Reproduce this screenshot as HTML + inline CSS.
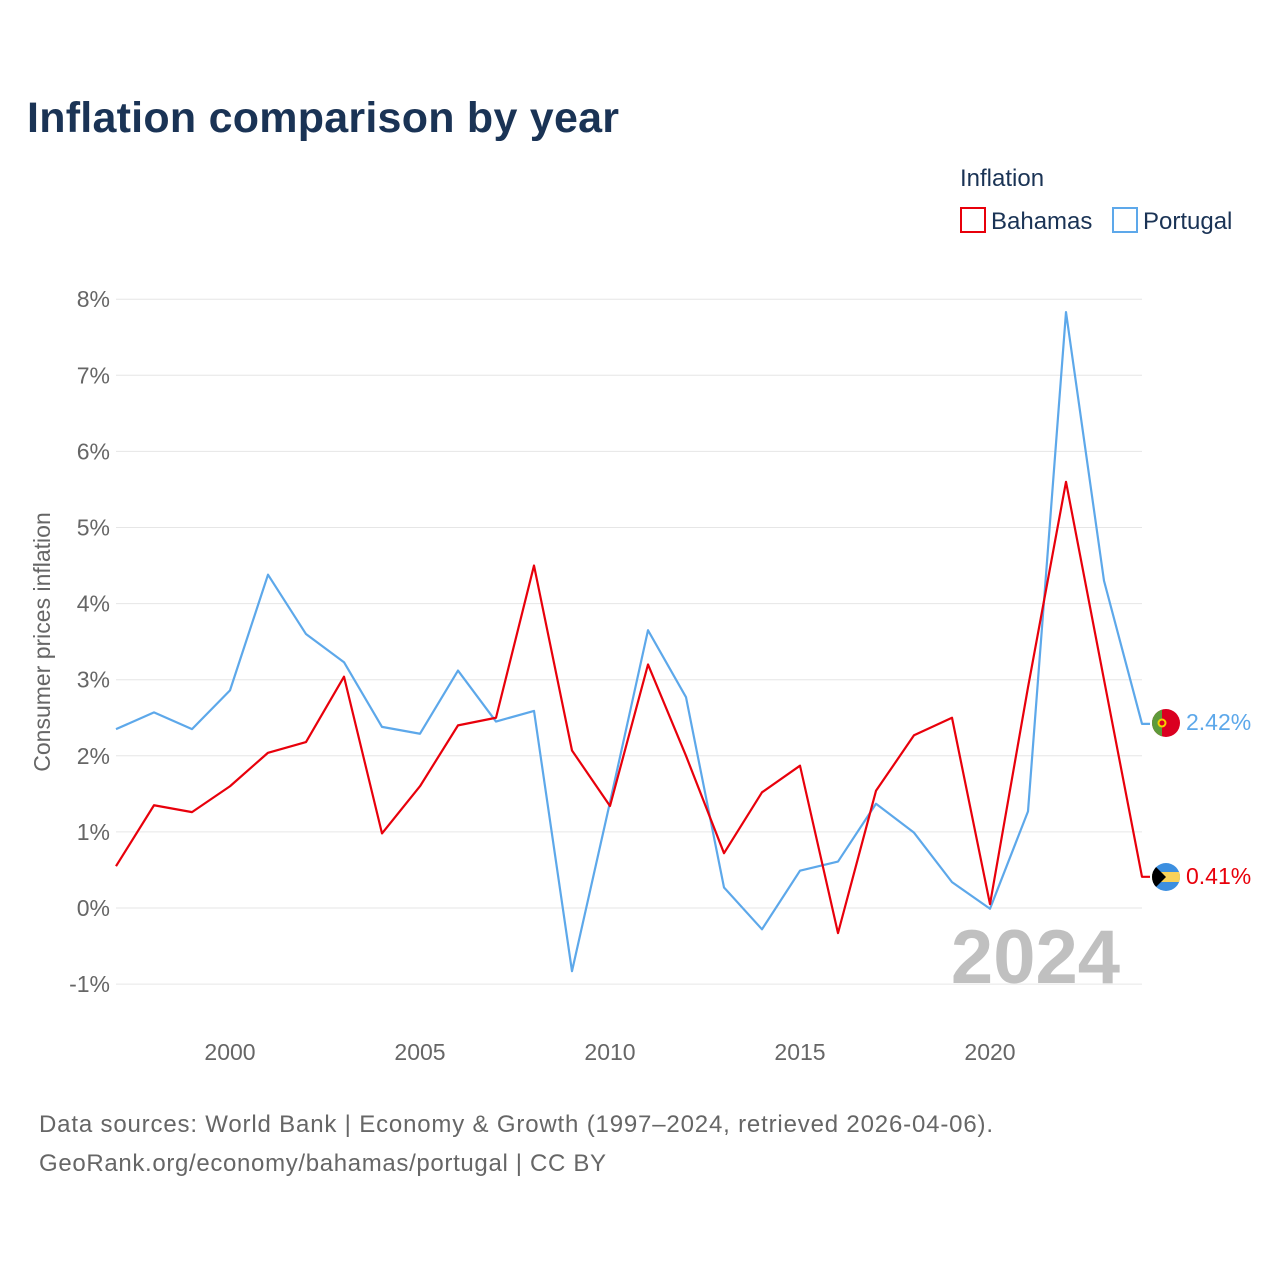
<!DOCTYPE html>
<html><head><meta charset="utf-8"><style>
body{margin:0;background:#fff;font-family:"Liberation Sans",sans-serif}
</style></head><body>
<svg id="c" width="1280" height="1280" xmlns="http://www.w3.org/2000/svg">
<text x="27" y="132" font-size="43" font-weight="bold" fill="#1a3355" textLength="592">Inflation comparison by year</text>
<text x="960" y="186" font-size="24" fill="#1a3355">Inflation</text>
<g><rect x="961" y="208" width="24" height="24" fill="none" stroke="#e8000b" stroke-width="2"/><text x="991" y="229" font-size="24" fill="#1a3355">Bahamas</text></g>
<g><rect x="1113" y="208" width="24" height="24" fill="none" stroke="#5da8ea" stroke-width="2"/><text x="1143" y="229" font-size="24" fill="#1a3355">Portugal</text></g>
<text transform="translate(50,642) rotate(-90)" text-anchor="middle" font-size="23" fill="#666">Consumer prices inflation</text>
<g id="grid"></g><g id="xt"></g>
<text x="1120" y="983" text-anchor="end" font-size="76" font-weight="bold" fill="#c0c0c0">2024</text>
<g id="lines"></g>
<g><clipPath id="pc"><circle cx="1166" cy="723" r="14"/></clipPath><g clip-path="url(#pc)"><rect x="1150" y="708" width="32" height="30" fill="#da0020"/><rect x="1150" y="708" width="12" height="30" fill="#5e9a3a"/></g><circle cx="1162" cy="723" r="4.5" fill="#f6d200"/><circle cx="1162" cy="723" r="2.5" fill="#da0020"/></g>
<g><clipPath id="bc"><circle cx="1166" cy="877" r="14"/></clipPath><g clip-path="url(#bc)"><rect x="1150" y="862" width="32" height="30" fill="#3c8fe0"/><rect x="1150" y="872" width="32" height="10" fill="#f8d25a"/><path d="M1151 862 L1166 877 L1151 892 Z" fill="#000"/></g></g>
<text x="1186" y="730" font-size="23" fill="#5da8ea">2.42%</text>
<text x="1186" y="884" font-size="23" fill="#e8000b">0.41%</text>
<text x="39" y="1132" font-size="24" fill="#666" textLength="954">Data sources: World Bank | Economy &amp; Growth (1997–2024, retrieved 2026-04-06).</text>
<text x="39" y="1171" font-size="24" fill="#666" textLength="567">GeoRank.org/economy/bahamas/portugal | CC BY</text>
</svg>
<script>
const years=[1997,1998,1999,2000,2001,2002,2003,2004,2005,2006,2007,2008,2009,2010,2011,2012,2013,2014,2015,2016,2017,2018,2019,2020,2021,2022,2023,2024];
const bahamas=[0.55,1.35,1.26,1.6,2.04,2.18,3.04,0.98,1.6,2.4,2.5,4.5,2.07,1.34,3.2,2.0,0.72,1.52,1.87,-0.33,1.54,2.27,2.5,0.05,2.9,5.6,3.0,0.41];
const portugal=[2.35,2.57,2.35,2.86,4.38,3.6,3.23,2.38,2.29,3.12,2.45,2.59,-0.83,1.39,3.65,2.77,0.27,-0.28,0.49,0.61,1.37,0.99,0.34,-0.01,1.27,7.83,4.3,2.42];
const yTicks=[-1,0,1,2,3,4,5,6,7,8];
const xTicks=[2000,2005,2010,2015,2020];
const X=y=>116+(y-1997)*38, Y=v=>908-v*76.1;
const ns="http://www.w3.org/2000/svg";
const g=document.getElementById('grid'),xt=document.getElementById('xt'),L=document.getElementById('lines');
yTicks.forEach(t=>{
 const l=document.createElementNS(ns,'line');l.setAttribute('x1',116);l.setAttribute('x2',1142);l.setAttribute('y1',Y(t));l.setAttribute('y2',Y(t));l.setAttribute('stroke','#e6e6e6');
 
 g.appendChild(l);
 const tx=document.createElementNS(ns,'text');tx.setAttribute('x',110);tx.setAttribute('y',Y(t)+8);tx.setAttribute('text-anchor','end');tx.setAttribute('font-size','23');tx.setAttribute('fill','#666');tx.textContent=t+'%';
 
 g.appendChild(tx);
});
xTicks.forEach(t=>{
 const tx=document.createElementNS(ns,'text');tx.setAttribute('x',X(t));tx.setAttribute('y',1060);tx.setAttribute('text-anchor','middle');tx.setAttribute('font-size','23');tx.setAttribute('fill','#666');tx.textContent=t;
 
 xt.appendChild(tx);
});
function line(d,c,n){
 const p=document.createElementNS(ns,'polyline');
 const pts=d.map((v,i)=>X(years[i])+','+Y(v));pts.push((X(years[years.length-1])+8)+','+Y(d[d.length-1]));
 p.setAttribute('points',pts.join(' '));p.setAttribute('fill','none');p.setAttribute('stroke',c);p.setAttribute('stroke-width','2.2');p.setAttribute('stroke-linejoin','round');
 
 L.appendChild(p);
}
line(portugal,'#5da8ea','portugal-line');
line(bahamas,'#e8000b','bahamas-line');
</script>
</body></html>
